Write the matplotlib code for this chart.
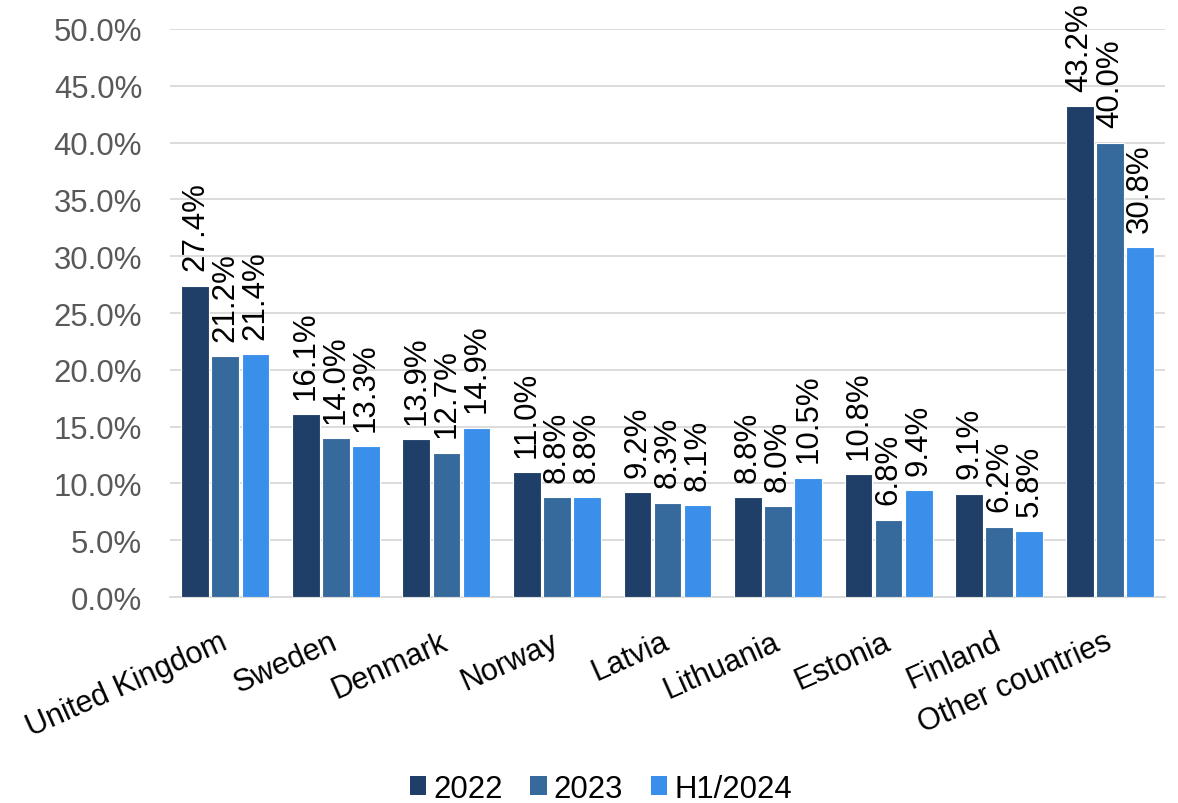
import matplotlib
matplotlib.use("Agg")
import matplotlib.pyplot as plt
import numpy as np
from matplotlib.patches import Patch

categories = ["United Kingdom", "Sweden", "Denmark", "Norway", "Latvia",
              "Lithuania", "Estonia", "Finland", "Other countries"]
series_names = ["2022", "2023", "H1/2024"]
v2022 = [27.4, 16.1, 13.9, 11.0, 9.2, 8.8, 10.8, 9.1, 43.2]
v2023 = [21.2, 14.0, 12.7, 8.8, 8.3, 8.0, 6.8, 6.2, 40.0]
vh1_2024 = [21.4, 13.3, 14.9, 8.8, 8.1, 10.5, 9.4, 5.8, 30.8]
yticks = [0, 5, 10, 15, 20, 25, 30, 35, 40, 45, 50]

colors = ["#1F3F69", "#376A9C", "#3A8FEB"]
FS_Y = 22.4
FS_X = 22.0
FS_LAB = 22.5

plt.rcParams['font.family'] = ['Liberation Sans', 'DejaVu Sans']

fig = plt.figure(figsize=(11.78, 8.04), dpi=100)
ax = fig.add_axes([0.1443, 0.2562, 0.989 - 0.1443, 0.9627 - 0.2562])

x = np.arange(len(categories))
width = 0.25
step = 0.272
for i, (vals, c) in enumerate(zip([v2022, v2023, vh1_2024], colors)):
    pos = x + (i - 1) * step
    ax.bar(pos, vals, width=width, color=c, edgecolor="white", linewidth=0.8, zorder=3)
    for px, v in zip(pos, vals):
        ax.annotate(f"{v:.1f}%", (px, v), xytext=(0, 11), textcoords="offset points",
                    rotation=90, ha="center", va="bottom", fontsize=FS_LAB, color="black",
                    annotation_clip=False)

ax.set_xlim(-0.5, len(categories) - 0.5)
ax.set_ylim(0, 50)
ax.set_yticks(yticks)
ax.set_yticklabels([f"{t:.1f}%" for t in yticks], fontsize=FS_Y, color="#595959")
ax.yaxis.grid(True, color="#D9D9D9", linewidth=1.3, zorder=0)
ax.set_axisbelow(True)
ax.tick_params(axis="y", length=0, pad=20)
ax.tick_params(axis="x", length=0, pad=31)
ax.set_xticks(x)
ax.set_xticklabels(categories, rotation=24, ha="right", va="center",
                   rotation_mode="anchor", fontsize=FS_X, color="black")
for s in ["top", "right", "left"]:
    ax.spines[s].set_visible(False)
ax.spines["bottom"].set_color("#D9D9D9")
ax.spines["bottom"].set_linewidth(1.3)

handles = [Patch(facecolor=c, label=n) for c, n in zip(colors, series_names)]
fig.legend(handles=handles, loc="center", bbox_to_anchor=(0.51, 0.018), ncol=3,
           frameon=False, fontsize=FS_Y, handlelength=0.54, handleheight=0.54,
           handletextpad=0.22, columnspacing=0.88)

fig.savefig("out.png", dpi=100)
